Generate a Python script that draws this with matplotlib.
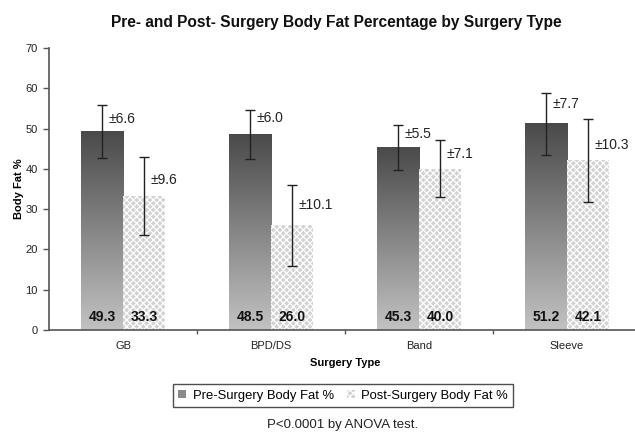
import numpy as np
import matplotlib
matplotlib.use("Agg")
import matplotlib.pyplot as plt
from matplotlib.patches import Patch
from matplotlib.colors import LinearSegmentedColormap

plt.rcParams['font.family'] = ['Liberation Sans', 'DejaVu Sans']
plt.rcParams['hatch.linewidth'] = 0.9

categories = ["GB", "BPD/DS", "Band", "Sleeve"]
pre_values = [49.3, 48.5, 45.3, 51.2]
post_values = [33.3, 26.0, 40.0, 42.1]
pre_sd = [6.6, 6.0, 5.5, 7.7]
post_sd = [9.6, 10.1, 7.1, 10.3]
pre_sd_labels = ["±6.6", "±6.0", "±5.5", "±7.7"]
post_sd_labels = ["±9.6", "±10.1", "±7.1", "±10.3"]

# label drop below error-bar top (layout only)
pre_label_drop = [3.5, 2.0, 2.2, 2.7]
post_label_drop = [5.6, 5.0, 3.3, 6.5]

W, H = 635, 440
fig = plt.figure(figsize=(W / 100, H / 100), dpi=100)
ax = fig.add_axes([49 / W, 1 - 330 / H, 592 / W, 282 / H])

x = np.arange(len(categories))
bw = 0.284

grad_cmap = LinearSegmentedColormap.from_list("g", ["#c2c2c2", "#4a4a4a"])
pre_bars = ax.bar(x - bw / 2, pre_values, bw, color='none', edgecolor='none', zorder=2)
for b in pre_bars:
    x0, y0 = b.get_x(), b.get_y()
    grad = np.linspace(0, 1, 256).reshape(-1, 1)
    ax.imshow(grad, extent=[x0, x0 + b.get_width(), y0, y0 + b.get_height()],
              origin='lower', aspect='auto', cmap=grad_cmap, zorder=2)

post_bars = ax.bar(x + bw / 2, post_values, bw, color='#d2d2d2', edgecolor='white',
                   linewidth=0, hatch='xxxxx', zorder=2)

ax.errorbar(x - bw / 2, pre_values, yerr=pre_sd, fmt='none', ecolor='#222222',
            elinewidth=1.0, capsize=3.5, capthick=1.0, zorder=4)
ax.errorbar(x + bw / 2, post_values, yerr=post_sd, fmt='none', ecolor='#222222',
            elinewidth=1.0, capsize=3.5, capthick=1.0, zorder=4)

for i in range(len(categories)):
    ax.text(x[i] - bw / 2 + 0.045, pre_values[i] + pre_sd[i] - pre_label_drop[i],
            pre_sd_labels[i], ha='left', va='center', fontsize=10, color='#222222', zorder=5)
    ax.text(x[i] + bw / 2 + 0.045, post_values[i] + post_sd[i] - post_label_drop[i],
            post_sd_labels[i], ha='left', va='center', fontsize=10, color='#222222', zorder=5)
    ax.text(x[i] - bw / 2, 1.4, f"{pre_values[i]:.1f}", ha='center', va='bottom',
            fontsize=10, fontweight='bold', color='#111111', zorder=5)
    ax.text(x[i] + bw / 2, 1.4, f"{post_values[i]:.1f}", ha='center', va='bottom',
            fontsize=10, fontweight='bold', color='#111111', zorder=5)

ax.set_xlim(-0.5, 3.5)
ax.set_ylim(0, 70)
ax.set_yticks(range(0, 71, 10))
ax.set_xticks(x)
ax.set_xticklabels(categories)
ax.set_xticks(np.arange(0.5, 3.5, 1.0), minor=True)
ax.tick_params(axis='x', which='major', length=0, pad=8, labelsize=8, colors='#222222')
ax.tick_params(axis='x', which='minor', length=3, width=1, color='#555555')
ax.tick_params(axis='y', length=4, width=1, color='#555555', labelsize=8, pad=4,
               labelcolor='#222222')
for s in ['top', 'right']:
    ax.spines[s].set_visible(False)
for s in ['left', 'bottom']:
    ax.spines[s].set_color('#555555')
    ax.spines[s].set_linewidth(1.2)

ax.set_ylabel("Body Fat %", fontsize=8, fontweight='bold', labelpad=1)
ax.set_xlabel("Surgery Type", fontsize=8, fontweight='bold', labelpad=5)

fig.text(336 / W, 1 - 22 / H, "Pre- and Post- Surgery Body Fat Percentage by Surgery Type",
         ha='center', va='center', fontsize=11.2, fontweight='bold', color='#111111')

handles = [Patch(facecolor='#8a8a8a', edgecolor='none'),
           Patch(facecolor='#d2d2d2', edgecolor='white', hatch='xxxxx', linewidth=0)]
leg = fig.legend(handles, ["Pre-Surgery Body Fat %", "Post-Surgery Body Fat %"],
                 loc='center', bbox_to_anchor=(343 / W, 1 - 395.5 / H), ncol=2,
                 fontsize=9.4, frameon=True, fancybox=False, handlelength=0.6,
                 handleheight=0.6, handletextpad=0.5, columnspacing=1.0,
                 borderpad=0.4, borderaxespad=0)
leg.get_frame().set_edgecolor('#222222')
leg.get_frame().set_linewidth(1.0)

fig.text(343 / W, 1 - 425 / H, "P<0.0001 by ANOVA test.", ha='center', va='center',
         fontsize=9.5, color='#222222')

fig.savefig("out.png", dpi=100)
